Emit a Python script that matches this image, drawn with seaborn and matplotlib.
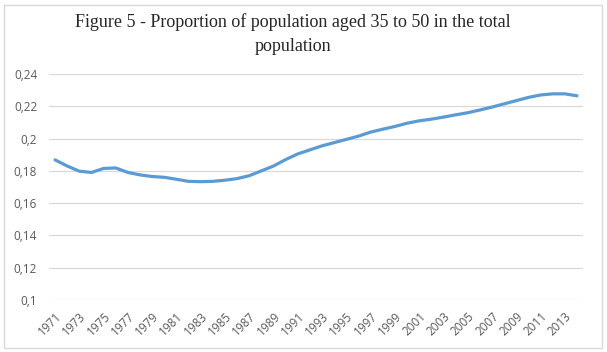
import numpy as np
import pandas as pd
import matplotlib
matplotlib.use("Agg")
import matplotlib.pyplot as plt
import seaborn as sns
from matplotlib.ticker import FuncFormatter
from matplotlib.patches import Rectangle

# data
years = list(range(1971, 2015))
share = [0.1868, 0.1830, 0.1798, 0.1790, 0.1815, 0.1818, 0.1790, 0.1775, 0.1765, 0.1760,
         0.1748, 0.1735, 0.1733, 0.1735, 0.1742, 0.1752, 0.1770, 0.1800, 0.1830, 0.1870,
         0.1905, 0.1930, 0.1955, 0.1975, 0.1995, 0.2015, 0.2040, 0.2058, 0.2075, 0.2095,
         0.2110, 0.2120, 0.2133, 0.2147, 0.2160, 0.2177, 0.2195, 0.2215, 0.2235, 0.2255,
         0.2270, 0.2277, 0.2277, 0.2265]
tick_years = list(range(1971, 2014, 2))
y_ticks = [0.1, 0.12, 0.14, 0.16, 0.18, 0.2, 0.22, 0.24]

df = pd.DataFrame({"year": years, "share": share})

sns.set_style("white")
plt.rcParams['font.family'] = ['Open Sans', 'DejaVu Sans']

fig = plt.figure(figsize=(6.07, 3.52), dpi=100)
ax = fig.add_axes([0.0807, 0.1477, 0.8798, 0.6421])

sns.lineplot(data=df, x="year", y="share", ax=ax, color="#5B9BD5", linewidth=2.3)

ax.set_xlim(1970.5, 2014.5)
ax.set_ylim(0.1, 0.24)
ax.set_yticks(y_ticks)
ax.yaxis.set_major_formatter(FuncFormatter(lambda v, p: ("%g" % round(v, 2)).replace(".", ",")))
ax.set_xticks(tick_years)
ax.set_xticklabels([str(y) for y in tick_years], rotation=45, ha="right", rotation_mode="anchor")
ax.tick_params(axis="both", labelsize=8.5, labelcolor="#595959", length=0)
ax.tick_params(axis="y", pad=8.5)
ax.tick_params(axis="x", pad=7)
ax.grid(axis="y", color="#D9D9D9", linewidth=0.9)
ax.set_axisbelow(True)
for s in ax.spines.values():
    s.set_visible(False)
ax.set_xlabel("")
ax.set_ylabel("")

fig.text(0.483, 0.937, "Figure 5 - Proportion of population aged 35 to 50 in the total",
         ha="center", va="center", fontsize=13, family="Liberation Serif")
fig.text(0.483, 0.869, "population",
         ha="center", va="center", fontsize=13, family="Liberation Serif")

fig.patches.append(Rectangle((0.006, 0.012), 0.986, 0.975, transform=fig.transFigure,
                             fill=False, edgecolor="#D9D9D9", linewidth=1))

fig.savefig("out.png", dpi=100)
